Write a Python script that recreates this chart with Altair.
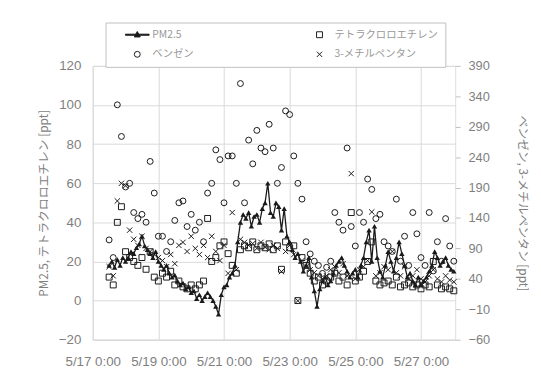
import altair as alt
import pandas as pd

BASE = pd.Timestamp("2021-05-17 00:00")
SERIES = ["PM2.5", "ベンゼン", "テトラクロロエチレン", "3-メチルペンタン"]

# PM2.5 [left axis], every 2 h from 5/17 12:00
pm25 = [18, 20, 17, 21, 18, 22,
        20, 22, 25, 24, 27, 29, 33, 28, 26, 24, 22, 25,
        20, 18, 16, 18, 14, 12, 13, 10, 8, 9, 6, 7,
        4, 5, 1, 3, 0, 2, 4, 2, 0, -3, -7, 3,
        7, 8, 12, 14, 18, 30, 40, 44, 42, 45, 38, 43,
        44, 40, 47, 50, 60, 45, 43, 50, 48, 36, 47, 33,
        30, 26, 22, 24, 20, 15, 18, 22, 12, 5, -3, 6,
        10, 12, 8, 10, 14, 18, 20, 22, 18, 15, 12, 14,
        16, 12, 18, 22, 30, 36, 20, 38, 22, 15, 12, 18,
        25, 20, 15, 22, 30, 24, 18, 12, 14, 10, 8, 12,
        8, 10, 12, 15, 18, 25, 22, 18, 20, 22, 18, 16,
        15]

# every 3 h from 5/17 12:00
tetra = [12, 8, 40, 48, 25, 22, 20, 18, 22, 16, 25, 12,
         10, 14, 12, 15, 8, 10, 7, 6,
         8, 6, 8, 10, 42, 20, 22, 28,
         30, 24, 18, 14, 26, 28, 27, 30,
         26, 28, 27, 29, 26, 28, 16, 30,
         27, 28, 0, 22, 18, 14, 10, 12,
         8, 10, 12, 14, 10, 12, 8, 45,
         10, 12, 15, 20, 30, 10, 8, 9,
         10, 8, 12, 7, 8, 9, 7, 8,
         6, 8, 7, 20, 8, 6, 7, 6,
         5]

benzene = [104, 75, 326, 274, 191, 197, 149, 139, 146, 133, 233, 181,
           110, 110, 85, 101, 136, 165, 168, 126,
           146, 120, 133, 101, 181, 197, 252, 236,
           165, 242, 242, 197, 361, 165, 268, 229,
           284, 255, 249, 294, 255, 197, 223, 316,
           310, 242, 197, 171, 101, 81, 69, 62,
           49, 59, 69, 149, 133, 120, 255, 126,
           94, 149, 133, 204, 187, 139, 146, 101,
           94, 85, 171, 69, 110, 62, 149, 114,
           75, 62, 149, 53, 101, 69, 139, 94,
           69]

mp3 = [60, 45, 168, 197, 193, 120, 105, 95, 110, 90, 85, 80,
       75, 70, 60, 80, 65, 95, 100, 85,
       110, 90, 80, 95, 75, 110, 85, 70,
       95, 49, 149, 55, 105, 100, 95, 98,
       90, 100, 92, 88, 95, 90, 52, 85,
       95, 80, 4, 70, 60, 55, 50, 45,
       40, 45, 55, 60, 50, 65, 45, 213,
       40, 55, 60, 70, 150, 45, 50, 60,
       55, 85, 50, 45, 60, 40, 45, 55,
       40, 35, 45, 55, 40, 35, 45, 38,
       35]


def frame(values, step_h, name):
    t0 = BASE + pd.Timedelta(hours=12)
    times = [(t0 + pd.Timedelta(hours=step_h * i)).strftime("%Y-%m-%dT%H:%M:%S")
             for i in range(len(values))]
    return pd.DataFrame({"time": times, "value": values, "series": name})


df_pm = frame(pm25, 2, "PM2.5")
df_te = frame(tetra, 3, "テトラクロロエチレン")
df_bz = frame(benzene, 3, "ベンゼン")
df_mp = frame(mp3, 3, "3-メチルペンタン")

FONT_NUM = "Liberation Sans"
FONT_JP = "Noto Sans CJK JP"
GRAY = "#7f7f7f"
LGRAY = "#999999"
GRID = "#d9d9d9"
INK = "#1a1a1a"

PM_PATH = "M-4,-0.18H4V0.18H-4Z M0,-1.1L1,0.75H-1Z"
X_PATH = "M-0.9,-0.9L0.9,0.9M-0.9,0.9L0.9,-0.9"

x_enc = alt.X(
    "time:T",
    scale=alt.Scale(domain=[alt.DateTime(year=2021, month=5, date=17, hours=0),
                            alt.DateTime(year=2021, month=5, date=28, hours=1)]),
    axis=alt.Axis(
        values=[alt.DateTime(year=2021, month=5, date=d, hours=0) for d in (17, 19, 21, 23, 25, 27)],
        format="%-m/%-d %-H:%M", title=None, grid=True, gridColor=GRID,
        ticks=False, domain=True, domainColor=GRID, labelColor=GRAY,
        labelFont=FONT_NUM, labelFontSize=13.5, labelPadding=15,
        labelOverlap=False, labelFlush=False, labelSeparation=0),
)

y_left = alt.Y(
    "value:Q",
    scale=alt.Scale(domain=[-20, 120], nice=False, zero=False),
    axis=alt.Axis(values=list(range(-20, 121, 20)), title="PM2.5, テトラクロロエチレン [ppt]",
                  grid=True, gridColor=GRID, ticks=False, domain=False,
                  labelColor=GRAY, labelFont=FONT_NUM, labelFontSize=13.5, labelPadding=12,
                  labelOverlap=False,
                  titleColor=GRAY, titleFont=FONT_JP, titleFontSize=12, titleFontWeight="normal",
                  titlePadding=8),
)

y_right = alt.Y(
    "value:Q",
    scale=alt.Scale(domain=[-60, 390], nice=False, zero=False),
    axis=alt.Axis(orient="right", values=list(range(-60, 391, 50)),
                  title="ベンゼン, 3-メチルペンタン [ppt]", grid=False, ticks=True,
                  tickColor="#bfbfbf", tickSize=5, domain=False,
                  labelColor=GRAY, labelFont=FONT_NUM, labelFontSize=13, labelPadding=8,
                  labelOverlap=False,
                  titleColor=GRAY, titleFont=FONT_JP, titleFontSize=12, titleFontWeight="normal",
                  titleAngle=90, titlePadding=26),
)

LEG = alt.Legend(
    title=None, orient="none", legendX=13, legendY=-44, direction="vertical", columns=2,
    columnPadding=102, rowPadding=9, padding=7, symbolOffset=20, labelOffset=10,
    strokeColor="#bfbfbf", fillColor="white", symbolSize=36,
    symbolStrokeColor=INK, symbolStrokeWidth=1,
    labelFont=FONT_JP, labelFontSize=10.5, labelColor=LGRAY,
)
shape_enc = alt.Shape("series:N", scale=alt.Scale(domain=SERIES, range=[PM_PATH, "circle", "square", X_PATH]), legend=LEG)
fill_enc = alt.Fill("series:N", scale=alt.Scale(domain=SERIES, range=[INK, "transparent", "transparent", "transparent"]), legend=LEG)
stroke_enc = alt.Stroke("series:N", scale=alt.Scale(domain=SERIES, range=[INK, INK, INK, INK]), legend=LEG)

pts = dict(size=36, strokeWidth=1, opacity=1, filled=True)

pm_line = alt.Chart(df_pm).mark_line(color=INK, strokeWidth=1.3).encode(x=x_enc, y=y_left)
pm_pts = alt.Chart(df_pm).mark_point(shape="triangle-up", size=30, filled=True, color=INK, opacity=1).encode(x=x_enc, y=y_left)
te_pts = alt.Chart(df_te).mark_point(**pts).encode(x=x_enc, y=y_left, shape=shape_enc, fill=fill_enc, stroke=stroke_enc)
bz_pts = alt.Chart(df_bz).mark_point(**pts).encode(x=x_enc, y=y_right, shape=shape_enc, fill=fill_enc, stroke=stroke_enc)
mp_pts = alt.Chart(df_mp).mark_point(**pts).encode(x=x_enc, y=y_right, shape=shape_enc, fill=fill_enc, stroke=stroke_enc)

right_group = alt.layer(bz_pts, mp_pts)
left_group = alt.layer(te_pts, pm_line, pm_pts)

chart = alt.layer(right_group, left_group).resolve_scale(y="independent").properties(
    width=368, height=278,
    padding={"left": 86, "top": 56, "right": 79, "bottom": 28},
    autosize=alt.AutoSizeParams(type="none"),
).configure_view(stroke=None).configure(background="white")

chart.save("out.html", embed_options={"renderer": "svg", "actions": False})
